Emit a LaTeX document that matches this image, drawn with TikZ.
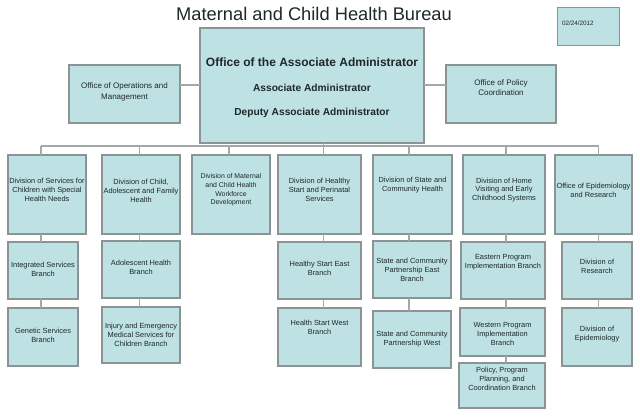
\documentclass[tikz,border=0pt]{standalone}
\usepackage{fontspec}
\setmainfont{Liberation Sans}
\definecolor{boxfill}{RGB}{190,225,227}
\definecolor{boxline}{RGB}{138,148,148}
\definecolor{connline}{RGB}{163,168,168}
\definecolor{inkcol}{RGB}{30,40,42}
\tikzset{
  obox/.style={draw=boxline, fill=boxfill, line width=1.4pt, inner sep=0pt, outer sep=0pt},
  otext/.style={align=center, inner sep=0pt, text=inkcol, font=\fontsize{7.4}{8.9}\selectfont},
  smalltext/.style={otext, font=\fontsize{6.9}{8.6}\selectfont},
  midtext/.style={otext, font=\fontsize{8}{10.2}\selectfont},
  conn/.style={draw=connline, line width=1.2pt},
}
\newcommand\orgbox[8]{%
  \node[obox, minimum width={(#4-#2)*1pt}, minimum height={(#5-#3)*1pt}] (#1) at ({(#2+#4)/2},{(#3+#5)/2}) {};
  \node[#8] (#1t) at ({(#2+#4)/2},#6) {#7};
}
\begin{document}
\begin{tikzpicture}[x=1pt,y=-1pt]
\useasboundingbox (0,0) rectangle (640,417);
\fill[white] (0,0) rectangle (640,417);

% title and date
\node[anchor=base, inner sep=0pt, text=inkcol, font=\fontsize{18.3}{20}\selectfont] (title) at (314,20.5) {Maternal and Child Health Bureau};
\node[obox, minimum width=62pt, minimum height=38pt] (date) at (588.5,26.5) {};
\node[anchor=west, inner sep=0pt, text=inkcol, font=\fontsize{6.3}{7}\selectfont] (datet) at (562,23) {02/24/2012};

% central office
\node[obox, minimum width=224pt, minimum height=115pt] (oaa) at (312,85.5) {};
\node[inner sep=0pt, text=inkcol, font=\bfseries\fontsize{12}{14}\selectfont] (oaa1) at (312,62) {Office of the Associate Administrator};
\node[inner sep=0pt, text=inkcol, font=\bfseries\fontsize{10.2}{12}\selectfont] (oaa2) at (312,88) {Associate Administrator};
\node[inner sep=0pt, text=inkcol, font=\bfseries\fontsize{10.2}{12}\selectfont] (oaa3) at (312,112.5) {Deputy Associate Administrator};

% staff offices
\orgbox{oom}{69}{65}{180}{123}{92}{Office of Operations and\\Management}{midtext}
\orgbox{opc}{446}{65}{556}{123}{87.5}{Office of Policy\\Coordination}{midtext}
\draw[conn] (oom.east |- 0,85) -- (oaa.west |- 0,85);
\draw[conn] (oaa.east |- 0,85) -- (opc.west |- 0,85);

% divisions
\orgbox{d1}{8}{155}{86}{234}{190}{Division of Services for\\Children with Special\\Health Needs}{otext}
\orgbox{d2}{102}{155}{180}{234}{190.5}{Division of Child,\\Adolescent and Family\\Health}{otext}
\orgbox{d3}{192}{155}{270}{234}{190}{Division of Maternal\\and Child Health\\Workforce\\Development}{smalltext}
\orgbox{d4}{278}{155}{361}{234}{190}{Division of Healthy\\Start and Perinatal\\Services}{otext}
\orgbox{d5}{373}{155}{452}{234}{185}{Division of State and\\Community Health}{otext}
\orgbox{d6}{463}{155}{545}{234}{190}{Division of Home\\Visiting and Early\\Childhood Systems}{otext}
\orgbox{d7}{555}{155}{632}{234}{190.5}{Office of Epidemiology\\and Research}{otext}

% branches
\orgbox{isb}{8}{242}{78}{299}{269}{Integrated Services\\Branch}{otext}
\orgbox{gsb}{8}{308}{78}{366}{335}{Genetic Services\\Branch}{otext}
\orgbox{ahb}{102}{241}{180}{298}{267.5}{Adolescent Health\\Branch}{otext}
\orgbox{iem}{102}{307}{180}{363}{335}{Injury and Emergency\\Medical Services for\\Children Branch}{otext}
\orgbox{hse}{278}{242}{361}{299}{268.5}{Healthy Start East\\Branch}{otext}
\orgbox{hsw}{278}{308}{361}{366}{327.5}{Health Start West\\Branch}{otext}
\orgbox{sce}{373}{241}{451}{298}{270}{State and Community\\Partnership East\\Branch}{otext}
\orgbox{scw}{373}{311}{451}{368}{339.5}{State and Community\\Partnership West}{otext}
\orgbox{epi}{461}{242}{545}{299}{262.5}{Eastern Program\\Implementation Branch}{otext}
\orgbox{wpi}{460}{308}{545}{356}{334}{Western Program\\Implementation\\Branch}{otext}
\orgbox{ppc}{459}{363}{545}{408}{379}{Policy, Program\\Planning, and\\Coordination Branch}{otext}
\orgbox{dor}{562}{242}{632}{299}{266.5}{Division of\\Research}{otext}
\orgbox{doe}{562}{308}{632}{366}{334.5}{Division of\\Epidemiology}{otext}

% bus junctions
\coordinate (j1) at (41,146);
\coordinate (j2) at (139.5,146);
\coordinate (j3) at (229,146);
\coordinate (j4) at (323.5,146);
\coordinate (j5) at (409,146);
\coordinate (j6) at (506,146);
\coordinate (j7) at (598.5,146);

\draw[conn] (j4 |- oaa.south) -- (j4);
\draw[conn] (j1) -- (j7);
\foreach \j/\d in {j1/d1,j2/d2,j3/d3,j4/d4,j5/d5,j6/d6,j7/d7}
  \draw[conn] (\j) -- (\j |- \d.north);

% branch links
\draw[conn] (j1 |- d1.south) -- (j1 |- isb.north);
\draw[conn] (j1 |- isb.south) -- (j1 |- gsb.north);
\draw[conn] (j2 |- d2.south) -- (j2 |- ahb.north);
\draw[conn] (j2 |- ahb.south) -- (j2 |- iem.north);
\draw[conn] (j4 |- d4.south) -- (j4 |- hse.north);
\draw[conn] (j4 |- hse.south) -- (j4 |- hsw.north);
\draw[conn] (j5 |- d5.south) -- (j5 |- sce.north);
\draw[conn] (j5 |- sce.south) -- (j5 |- scw.north);
\draw[conn] (j6 |- d6.south) -- (j6 |- epi.north);
\draw[conn] (j6 |- epi.south) -- (j6 |- wpi.north);
\draw[conn] (j6 |- wpi.south) -- (j6 |- ppc.north);
\draw[conn] (j7 |- d7.south) -- (j7 |- dor.north);
\draw[conn] (j7 |- dor.south) -- (j7 |- doe.north);
\end{tikzpicture}
\end{document}
